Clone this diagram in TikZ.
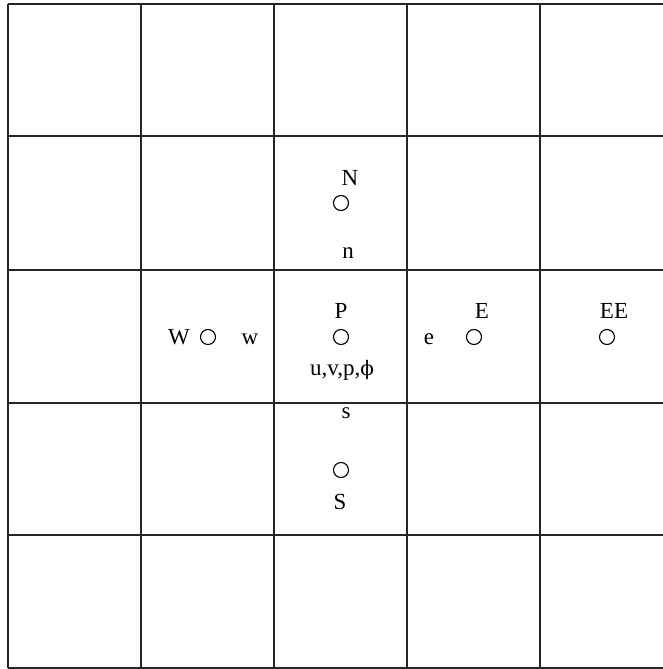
\documentclass[tikz,border=0pt]{standalone}
\usepackage{fontspec}
\setmainfont{Liberation Serif}
\newfontfamily\greekfont{DejaVu Serif}
\usetikzlibrary{positioning}

\begin{document}
\begin{tikzpicture}[x=1pt,y=-1pt,
lbl/.style={font=\fontsize{23}{27}\selectfont,inner sep=0pt},
pt/.style={circle,draw,line width=1.1pt,minimum size=15pt,inner sep=0pt},
gridline/.style={line width=1.3pt,draw=black!85}]
\useasboundingbox (0,0) rectangle (663,669);
% control volume grid
\foreach \x in {8,141,274,407,540,673}
  \draw[gridline] (\x,4) -- (\x,668);
\foreach \y in {4,136,270,403,535,668}
  \draw[gridline] (8,\y) -- (673,\y);
% nodes
\node[pt] (P) at (341,337) {};
\node[pt] (W) at (208,337) {};
\node[pt] (E) at (474,337) {};
\node[pt] (EE) at (607,337) {};
\node[pt] (N) at (341,203) {};
\node[pt] (S) at (341,470) {};
\node[lbl] (Plbl) at (341,311) {P};
\node[lbl] (Wlbl) at (179,337) {W};
\node[lbl] (Elbl) at (482,311) {E};
\node[lbl] (EElbl) at (614,311) {EE};
\node[lbl] (Nlbl) at (350,178) {N};
\node[lbl] (Slbl) at (340,502) {S};
% faces
\node[lbl] (wface) at (250,339) {w};
\node[lbl] (eface) at (429,339) {e};
\node[lbl] (nface) at (348,253) {n};
\node[lbl] (sface) at (346,413) {s};
\node[lbl] (vars) at (342,370) {u,v,p,{\greekfont\fontsize{20}{24}\selectfont ϕ}};
\end{tikzpicture}
\end{document}
